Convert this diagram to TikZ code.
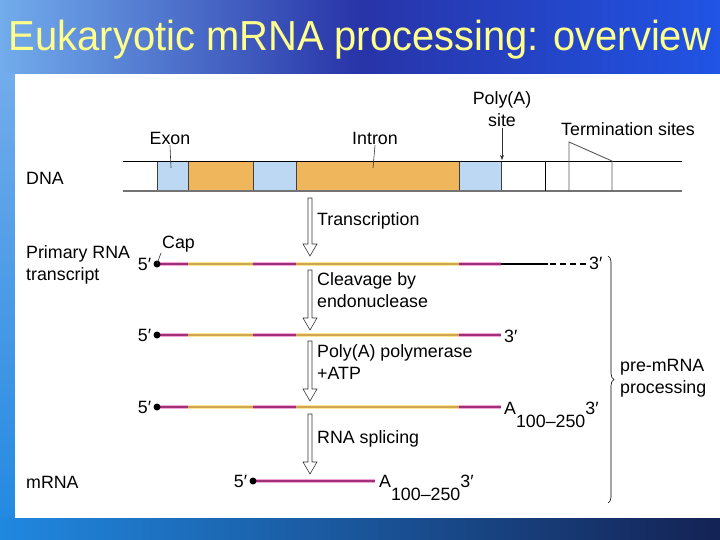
\documentclass[tikz,border=0pt]{standalone}
\usepackage{fontspec}
\setmainfont{Liberation Sans}
\usetikzlibrary{positioning,arrows.meta,calc,decorations.pathreplacing}

\definecolor{exonblue}{RGB}{188,216,242}
\definecolor{intronorange}{RGB}{239,182,92}
\definecolor{exonline}{RGB}{160,48,122}
\definecolor{exonglow}{RGB}{242,165,214}
\definecolor{intronline}{RGB}{206,166,82}
\definecolor{intronglow}{RGB}{250,230,150}
\definecolor{titleyellow}{RGB}{255,255,140}
\definecolor{bgleft}{RGB}{114,172,236}
\definecolor{bgmid}{RGB}{40,52,168}
\definecolor{bgright}{RGB}{32,84,228}
\definecolor{bgbright}{RGB}{32,136,224}
\definecolor{bgnavy}{RGB}{20,34,84}

% hollow process arrow from #1 down to #2
\newcommand\stepArrow[2]{%
  \draw[procarr] ($(#1)+(-2,0)$) -- ($(#2)+(-2,-12)$) -- ($(#2)+(-7,-12)$) -- (#2)
    -- ($(#2)+(7,-12)$) -- ($(#2)+(2,-12)$) -- ($(#1)+(2,0)$) -- cycle;}

% one RNA strand (exons and introns) at height #1
\newcommand\rnaRow[1]{%
  \foreach \a/\b/\k in {157/188/exonseg,188/253/intronseg,253/296/exonseg,296/459/intronseg,459/501/exonseg}
    \draw[\k] (\a,#1) -- (\b,#1);}

\begin{document}
\begin{tikzpicture}[x=1pt,y=-1pt,
 lbl/.style={font=\fontsize{17.8}{22}\selectfont,inner sep=1pt,align=left},
 exonseg/.style={draw=exonglow,double=exonline,line width=0.8pt,double distance=1.8pt},
 intronseg/.style={draw=intronglow,double=intronline,line width=0.8pt,double distance=1.8pt},
 dot/.style={circle,fill=black,inner sep=0pt,minimum size=7pt},
 procarr/.style={draw=black!80,line width=0.6pt,fill=white},
 tick/.style={draw=black!80,line width=0.6pt}]
\useasboundingbox (0,0) rectangle (720,540);
% background
\shade[left color=bgleft,right color=bgright,middle color=bgmid] (0,0) rectangle (720,540);
\shade[top color=bgleft,bottom color=bgbright] (0,74) rectangle (15,540);
\shade[left color=bgbright,right color=bgnavy] (0,518) rectangle (720,540);
\fill[white] (15,74) rectangle (720,518);
\node[text=titleyellow,font=\fontsize{42}{48}\selectfont,inner sep=0pt] (title) at (360,40)
  {\scalebox{0.95}[1]{Eukaryotic mRNA processing: overview}};

% DNA
\foreach \a/\b/\c in {157/188/exonblue,188/253/intronorange,253/296/exonblue,296/459/intronorange,459/501/exonblue}
  \filldraw[fill=\c,draw=black!75,line width=0.7pt] (\a,161) rectangle (\b,191);
\draw[line width=0.7pt] (123,161) -- (682,161);
\draw[black!55,line width=1.3pt] (123,191) -- (682,191);
\draw[line width=0.8pt] (545,161) -- (545,191);
\draw[black!65,line width=0.9pt] (569,191) -- (569,142) -- (612,161) -- (612,191);
\node[lbl,anchor=west] (dna) at (25,178) {DNA};
\node[lbl] (exon) at (170,138) {Exon};
\node[lbl] (intron) at (375,138) {Intron};
\node[lbl,align=center] (polya) at (502,109) {Poly(A)\\site};
\node[lbl] (term) at (628,129) {Termination sites};
\coordinate (exonpt) at (171,168);
\coordinate (intronpt) at (373,168);
\coordinate (polypt) at (502,160);
\draw[tick] (exon.south) -- (exonpt);
\draw[tick] (intron.south) -- (intronpt);
\draw[tick,-{Stealth[length=5pt,width=4pt]}] (polya.south) -- (polypt);

% primary transcript
\rnaRow{264}
\draw[line width=1.1pt] (501,264) -- (548,264);
\draw[line width=1.1pt,dash pattern=on 6pt off 4pt] (550,264) -- (588,264);
\node[dot] (cap5) at (157,264) {};
\node[lbl,left=1pt of cap5] (p5a) {5′};
\node[lbl,anchor=base west] (cap) at (161,248) {Cap};
\node[lbl,anchor=west] (p3a) at (588,263) {3′};
\draw[tick] (cap5.center) -- (cap.south west);
\node[lbl,anchor=west] (prim) at (25,265) {Primary RNA\\transcript};

% cleaved
\rnaRow{335}
\node[dot] (d2) at (157,335) {};
\node[lbl,left=1pt of d2] (p5b) {5′};
\node[lbl,anchor=west] (p3b) at (503,336) {3′};

% polyadenylated
\rnaRow{407}
\node[dot] (d3) at (157,407) {};
\node[lbl,left=1pt of d3] (p5c) {5′};
\node[lbl,anchor=base west] (pa3) at (503,414) {A\raisebox{-13pt}{100–250}3′};

% mRNA
\draw[exonseg] (253,481) -- (375,481);
\node[dot] (d4) at (253,481) {};
\node[lbl,left=1pt of d4] (p5d) {5′};
\node[lbl,anchor=base west] (pa4) at (378,487) {A\raisebox{-13pt}{100–250}3′};
\node[lbl,anchor=west] (mrna) at (25,482) {mRNA};

% processing steps
\foreach \i/\t/\b in {1/198/256,2/270/330,3/341/401,4/414/474}{
  \coordinate (top\i) at (310,\t);
  \coordinate (tip\i) at (310,\b);
  \stepArrow{top\i}{tip\i}}
\node[lbl,anchor=west] (s1) at (316,221) {Transcription};
\node[lbl,anchor=west] (s2) at (316,290) {Cleavage by\\endonuclease};
\node[lbl,anchor=west] (s3) at (316,362) {Poly(A) polymerase\\+ATP};
\node[lbl,anchor=west] (s4) at (316,439) {RNA splicing};

% brace
\coordinate (brtop) at (608,256);
\coordinate (brbot) at (608,503);
\draw[line width=0.6pt,decorate,decoration={brace,amplitude=6pt}] (brtop) -- (brbot);
\node[lbl,anchor=west] (pre) at (619,378) {pre-mRNA\\processing};
\end{tikzpicture}
\end{document}
